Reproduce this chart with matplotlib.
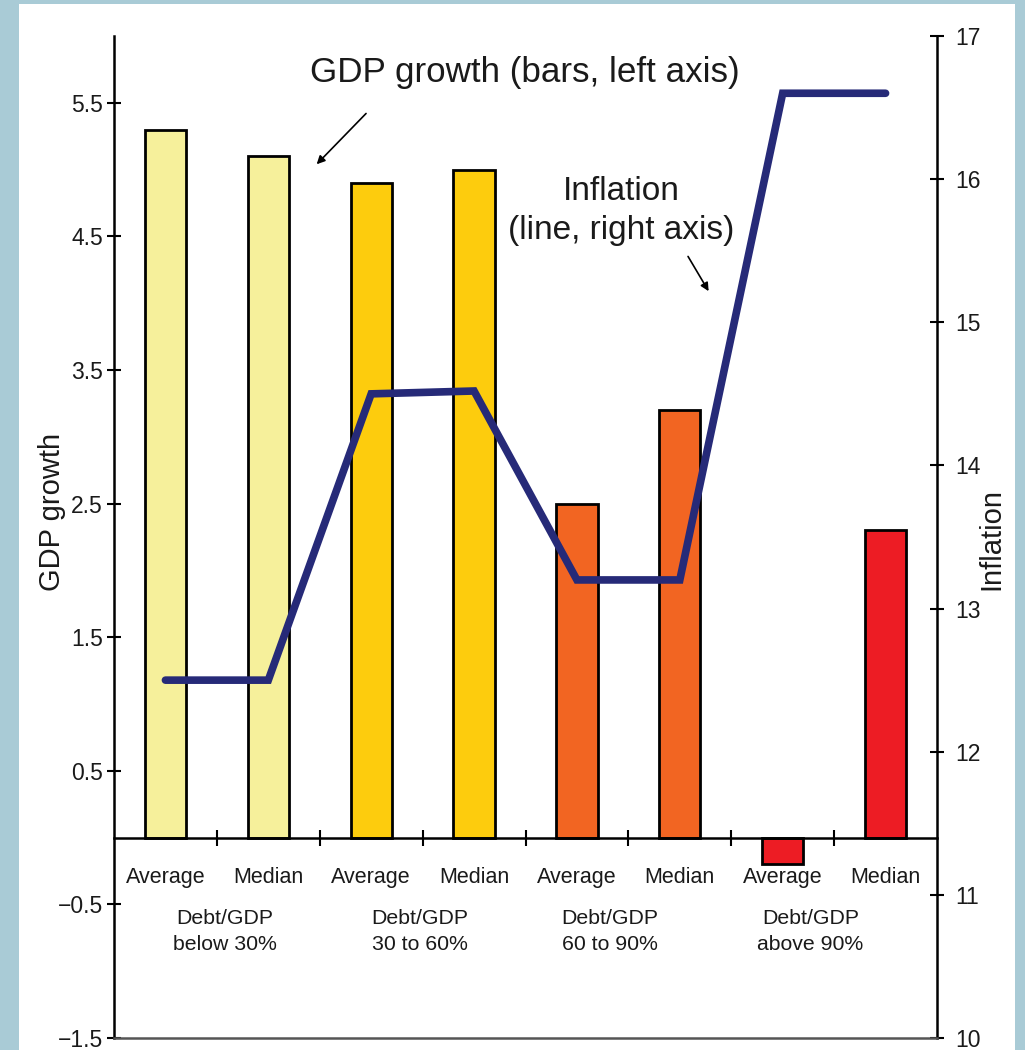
import matplotlib
matplotlib.use("Agg")
import matplotlib.pyplot as plt
from matplotlib.patches import Rectangle

plt.rcParams['font.family'] = ['Liberation Sans', 'DejaVu Sans']

# Data
stats = ["Average", "Median", "Average", "Median", "Average", "Median", "Average", "Median"]
groups = ["Debt/GDP\nbelow 30%", "Debt/GDP\n30 to 60%", "Debt/GDP\n60 to 90%", "Debt/GDP\nabove 90%"]
gdp_growth = [5.3, 5.1, 4.9, 5.0, 2.5, 3.2, -0.2, 2.3]
inflation = [12.5, 12.5, 14.5, 14.52, 13.2, 13.2, 16.6, 16.6]
left_ticks = [-1.5, -0.5, 0.5, 1.5, 2.5, 3.5, 4.5, 5.5]
right_ticks = [10, 11, 12, 13, 14, 15, 16, 17]

bar_colors = ["#f6f09b", "#f6f09b", "#fdcc0d", "#fdcc0d",
              "#f26522", "#f26522", "#ed1c24", "#ed1c24"]
line_color = "#262a78"
frame_color = "#a9cbd6"
text_color = "#1a1a1a"

W, H = 1025, 1050
fig = plt.figure(figsize=(W / 100, H / 100), dpi=100, facecolor=frame_color)
fig.patches.append(Rectangle((19 / W, 0), (1015 - 19) / W, 1 - 4 / H,
                             transform=fig.transFigure, facecolor="white",
                             edgecolor="none", zorder=-10))

ax = fig.add_axes([114 / W, 1 - 1038 / H, (937 - 114) / W, (1038 - 36) / H])
ax.patch.set_alpha(0)

x = list(range(len(gdp_growth)))
ax.bar(x, gdp_growth, width=0.4, color=bar_colors, edgecolor="black", linewidth=2, zorder=2)

ax.set_xlim(-0.5, len(x) - 0.5)
ax.set_ylim(-1.5, 6.0)
ax.set_yticks(left_ticks)
ax.set_yticklabels([f"{v:.1f}".replace("-", "\u2212") for v in left_ticks])
ax.tick_params(axis="y", direction="inout", length=10, width=1.5, labelsize=16.5,
               pad=3, labelcolor=text_color)

# Category axis sits on the zero line with ticks between the bars
ax.spines["bottom"].set_position(("data", 0))
ax.spines["bottom"].set_linewidth(1.8)
ax.spines["left"].set_linewidth(1.8)
ax.spines["top"].set_visible(False)
ax.spines["right"].set_visible(False)
ax.set_xticks([i + 0.5 for i in x[:-1]])
ax.set_xticklabels([])
ax.tick_params(axis="x", direction="inout", length=11, width=1.5)

for i, s in enumerate(stats):
    ax.text(i, -0.30, s, ha="center", va="center", fontsize=15.5, color=text_color)

group_x = [0.58, 2.47, 4.32, 6.27]
for gx, g in zip(group_x, groups):
    ax.text(gx, -0.705, g, ha="center", va="center", fontsize=15.3,
            linespacing=1.45, color=text_color)

ax.text(-0.075, 0.525, "GDP growth", transform=ax.transAxes, rotation=90,
        ha="center", va="center", fontsize=21, color=text_color)

# Inflation line on the right axis
ax2 = ax.twinx()
ax2.plot(x, inflation, color=line_color, linewidth=5.5, solid_capstyle="round",
         solid_joinstyle="miter", zorder=3)
ax2.set_ylim(10, 17)
ax2.set_yticks(right_ticks)
ax2.tick_params(axis="y", direction="inout", length=10, width=1.5, labelsize=16.5,
                pad=8, labelcolor=text_color)
ax2.spines["right"].set_linewidth(1.8)
ax2.spines["bottom"].set_linewidth(1.8)
ax2.spines["bottom"].set_color("#555555")
ax2.spines["top"].set_visible(False)
ax2.spines["left"].set_visible(False)
ax2.text(1.0656, 0.498, "Inflation", transform=ax.transAxes, rotation=90,
         ha="center", va="center", fontsize=21, color=text_color)

# Annotations
ax2.annotate("", xy=(1.47, 5.04), xytext=(1.95, 5.42), xycoords=ax.transData,
             textcoords=ax.transData,
             arrowprops=dict(arrowstyle="-|>", color="black", lw=1.2, mutation_scale=12,
                             shrinkA=0, shrinkB=0))
ax2.text(3.49, 5.73, "GDP growth (bars, left axis)", transform=ax.transData,
         ha="center", va="center", fontsize=25.2, color=text_color)
ax2.annotate("", xy=(5.28, 4.09), xytext=(5.08, 4.35), xycoords=ax.transData,
             textcoords=ax.transData,
             arrowprops=dict(arrowstyle="-|>", color="black", lw=1.2, mutation_scale=12,
                             shrinkA=0, shrinkB=0))
ax2.text(4.43, 4.69, "Inflation\n(line, right axis)", transform=ax.transData,
         ha="center", va="center", fontsize=24, linespacing=1.3, color=text_color)

fig.savefig("out.png", dpi=100, facecolor=frame_color)
